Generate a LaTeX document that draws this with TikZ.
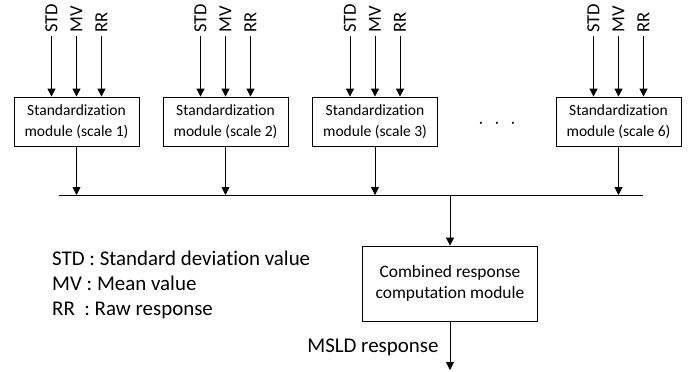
\documentclass[tikz,border=0pt]{standalone}
\usepackage{fontspec}
\setmainfont[Ligatures=NoCommon]{Carlito}
\usetikzlibrary{arrows.meta,positioning}

\tikzset{
  module/.style={draw, line width=0.8bp, minimum width=125bp, minimum height=49bp,
    align=center, inner sep=1bp, font=\fontsize{15.6}{20.5}\selectfont},
  inlabel/.style={rotate=90, anchor=west, inner sep=3bp, font=\fontsize{18.6}{22}\selectfont},
  arr/.style={line width=0.8bp, -{Triangle[length=8bp,width=8bp]}}
}

\begin{document}
\begin{tikzpicture}
        [x=1bp,y=-1bp]
        \useasboundingbox (0,0) rectangle (700,371);

        % standardization modules
        \node[module] (m1) at (76.5,121.5) {Standardization\\module (scale 1)};
        \node[module] (m2) at (225.5,121.5) {Standardization\\module (scale 2)};
        \node[module] (m3) at (375,121.5) {Standardization\\module (scale 3)};
        \node[module] (m6) at (618.5,121.5) {Standardization\\module (scale 6)};
        \node[font=\fontsize{20}{24}\selectfont] (dots) at (497,124) {$\cdot\;\cdot\;\cdot$};

        % inputs
        \foreach \m in {m1,m2,m3,m6}
        {
          \foreach \lbl/\dx in {STD/-25,MV/0,RR/25}
          {
            \node[inlabel] (\m-\lbl) at ([xshift=\dx bp]\m.north |- 0,36) {\lbl};
            \draw[arr] (\m-\lbl.west) -- (\m-\lbl.west |- \m.north);
          }
        }

        % bus
        \coordinate (busL) at (59,195);
        \coordinate (busR) at (643,195);
        \coordinate (busC) at (450,195);
        \draw[line width=0.8bp] (busL) -- (busR);
        \foreach \m in {m1,m2,m3,m6}
        {\draw[arr] (\m.south) -- (\m.south |- busL);}

        % combination
        \node[module, minimum width=175bp, minimum height=75bp, font=\fontsize{17.5}{21}\selectfont] (comb) at (450,283.5)
          {Combined response\\computation module};
        \draw[arr] (busC) -- (comb.north);
        \coordinate (out) at (450,370);
        \draw[arr] (comb.south) -- (out);
        \node[anchor=east, font=\fontsize{21}{24}\selectfont] (outlbl) at (442,347) {MSLD response};

        % legend
        \node[anchor=west, align=left, inner sep=0, font=\fontsize{21}{25}\selectfont] (legend) at (52,285)
          {STD : Standard deviation value\\MV : Mean value\\RR\ \ : Raw response};
      \end{tikzpicture}
\end{document}
